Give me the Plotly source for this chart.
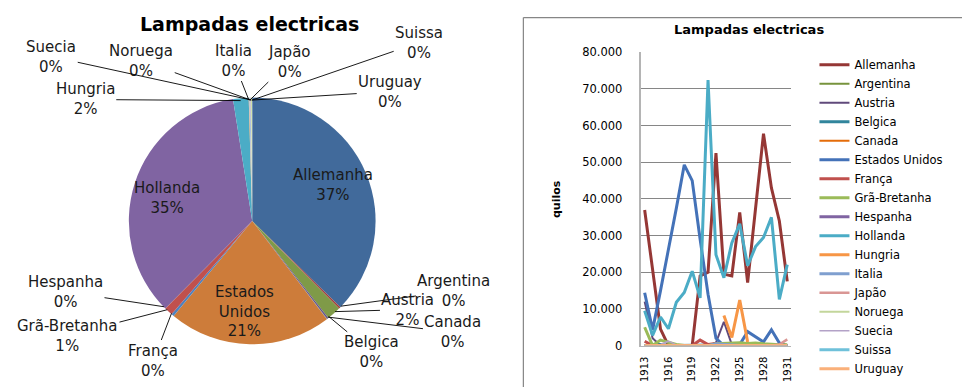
import math
import plotly.graph_objects as go

# ---------------------------------------------------------------- data
years = [1913, 1914, 1915, 1916, 1917, 1918, 1919, 1920, 1921, 1922,
         1923, 1924, 1925, 1926, 1927, 1928, 1929, 1930, 1931]

countries = ["Allemanha", "Argentina", "Austria", "Belgica", "Canada",
             "Estados Unidos", "França", "Grã-Bretanha", "Hespanha",
             "Hollanda", "Hungria", "Italia", "Japão", "Noruega", "Suecia",
             "Suissa", "Uruguay"]

# quilos imported per year
allemanha = [37000, 21000, 4500, 0, 0, 0, 0, 19000, 20000, 52500,
             19500, 19000, 36300, 17200, 37400, 57800, 43000, 34000, 17500]
argentina = [0, 0, 0, 0, 0, 0, 0, 0, 0, 300,
             500, 600, 500, 400, 300, 200, 0, 0, 0]
austria = [12000, 2000, 0, 0, 0, 0, 0, 0, 0, 800,
           6500, 300, 0, 0, 0, 0, 0, 0, 0]
belgica = [0, 0, 300, 0, 0, 0, 0, 0, 0, 0,
           0, 200, 300, 500, 300, 200, 300, 200, 0]
canada = [0, 0, 0, 0, 0, 0, 0, 0, 0, 200,
          0, 0, 300, 0, 0, 0, 0, 0, 0]
estados_unidos = [14400, 4300, 15000, 26000, 37500, 49300, 45000, 29000, 14000, 2000,
                  0, 0, 300, 3800, 2500, 1000, 4300, 700, 0]
franca = [1200, 0, 0, 0, 0, 0, 0, 1500, 300, 600,
          400, 0, 0, 0, 0, 0, 0, 0, 0]
gra_bretanha = [5000, 0, 1500, 800, 300, 0, 0, 0, 0, 500,
                600, 800, 800, 600, 700, 500, 300, 200, 200]
hespanha = [0, 0, 0, 0, 0, 0, 0, 0, 0, 200,
            0, 0, 0, 0, 0, 0, 0, 0, 0]
hollanda = [9500, 2800, 7800, 4600, 11800, 14500, 20300, 13000, 72400, 24800,
            18500, 28000, 33200, 21800, 27000, 29500, 35000, 12600, 22100]
hungria = [None, None, None, None, None, None, None, None, None, None,
           8200, 2200, 12400, 1000, None, None, None, None, None]
italia = [0, 0, 0, 0, 0, 0, 0, 0, 0, 500,
          300, 0, 0, 0, 0, 0, 0, 0, 0]
japao = [0, 0, 0, 0, 0, 0, 0, 0, 0, 0,
         0, 0, 0, 0, 0, 0, 0, 300, 1700]
noruega = [0, 0, 0, 0, 0, 0, 0, 0, 0, 100,
           200, 100, 100, 0, 0, 0, 0, 0, 0]
suecia = [0, 0, 300, 1200, 200, 0, 0, 0, 0, 0,
          0, 0, 0, 0, 0, 0, 0, 0, 0]
suissa = [0, 0, 0, 0, 0, 0, 0, 0, 0, 200,
          0, 0, 0, 0, 0, 0, 0, 0, 0]
uruguay = [0, 0, 0, 0, 0, 0, 0, 0, 0, 0,
           0, 0, 100, 0, 0, 0, 0, 0, 0]

series = [allemanha, argentina, austria, belgica, canada, estados_unidos,
          franca, gra_bretanha, hespanha, hollanda, hungria, italia, japao,
          noruega, suecia, suissa, uruguay]

y_ticks = [0, 10000, 20000, 30000, 40000, 50000, 60000, 70000, 80000]
x_ticks = [1913, 1916, 1919, 1922, 1925, 1928, 1931]

# ---------------------------------------------------------------- styles
W, H = 962, 387
FONT = "DejaVu Sans"

line_colors = ["#953735", "#77933C", "#604A7B", "#31859C", "#E46C0A",
               "#4472B8", "#C0504D", "#9BBB59", "#8064A2", "#4BACC6",
               "#F79646", "#7F9FCF", "#D99694", "#C3D69B", "#B3A2C7",
               "#6FC1DA", "#FAB07A"]
line_widths = [3, 2, 2, 3, 2, 3, 3, 3, 3, 3, 3, 3, 2.5, 2, 1.5, 3, 3]

pie_colors = ["#416A9B", "#A0423F", "#7F9A48", "#69528A", "#3E8FA5",
              "#CD7C3A", "#4F81BD", "#C0504D", "#9BBB59", "#8064A2",
              "#4BACC6", "#F79646", "#A7BFDE", "#DFA7A6", "#D1E2AA",
              "#B9A9CD", "#9DD3E3"]

# pie geometry (pixels)
cx, cy, R = 251, 222, 128

# label centres in pixels; inside labels carry no leader line
label_pos = {
    "Allemanha": (332, 185), "Hollanda": (166, 198), "Estados Unidos": (243, 316),
    "Argentina": (453, 295), "Austria": (407, 314), "Canada": (452, 337),
    "Belgica": (371, 357), "França": (152, 365), "Grã-Bretanha": (66, 340),
    "Hespanha": (64, 296), "Hungria": (84, 96), "Italia": (232, 57),
    "Japão": (288, 58), "Noruega": (140, 57), "Suecia": (50, 53),
    "Suissa": (418, 39), "Uruguay": (389, 88),
}
inside = {"Allemanha", "Hollanda", "Estados Unidos"}
display_name = {"Estados Unidos": "Estados<br>Unidos"}

# ---------------------------------------------------------------- figure
fig = go.Figure()

totals = [sum(v for v in s if v is not None) for s in series]
grand = sum(totals)

fig.add_trace(go.Pie(
    labels=countries, values=totals, sort=False, direction="clockwise",
    rotation=0, textinfo="none", showlegend=False,
    marker=dict(colors=pie_colors, line=dict(width=0)),
    domain=dict(x=[(cx - R) / W, (cx + R) / W],
                y=[1 - (cy + R) / H, 1 - (cy - R) / H]),
))

label_font = dict(family=FONT, size=15, color="#1a1a1a")
annotations = []
cum = 0
for name, tot in zip(countries, totals):
    mid = (cum + tot / 2) / grand * 2 * math.pi
    cum += tot
    pct = round(100 * tot / grand)
    text = f"{display_name.get(name, name)}<br>{pct}%"
    lx, ly = label_pos[name]
    if name in inside:
        annotations.append(dict(
            x=lx / W, y=1 - ly / H, xref="paper", yref="paper",
            xanchor="center", yanchor="middle",
            text=text, showarrow=False, font=label_font))
    else:
        tx = cx + R * 0.98 * math.sin(mid)
        ty = cy - R * 0.98 * math.cos(mid)
        annotations.append(dict(
            x=tx / W, y=1 - ty / H, xref="paper", yref="paper",
            ax=lx - tx, ay=ly - ty, text=text, showarrow=True,
            arrowhead=0, arrowwidth=0.9, arrowcolor="#000000", standoff=0,
            font=label_font))

# titles
annotations.append(dict(x=248 / W, y=1 - 18 / H, xref="paper", yref="paper",
                        xanchor="center", yanchor="middle",
                        text="<b>Lampadas electricas</b>", showarrow=False,
                        font=dict(family=FONT, size=19, color="#000000")))
annotations.append(dict(x=749 / W, y=1 - 23 / H, xref="paper", yref="paper",
                        xanchor="center", yanchor="middle",
                        text="<b>Lampadas electricas</b>", showarrow=False,
                        font=dict(family=FONT, size=13, color="#000000")))
annotations.append(dict(x=557 / W, y=1 - 199 / H, xref="paper", yref="paper",
                        xanchor="center", yanchor="middle",
                        text="<b>quilos</b>", textangle=-90, showarrow=False,
                        font=dict(family=FONT, size=11, color="#000000")))

for name, vals, col, lw in zip(countries, series, line_colors, line_widths):
    fig.add_trace(go.Scatter(
        x=years, y=vals, name=name, mode="lines",
        line=dict(color=col, width=lw), connectgaps=False,
        xaxis="x", yaxis="y",
    ))

fig.update_layout(
    width=W, height=H,
    margin=dict(l=0, r=0, t=0, b=0),
    paper_bgcolor="white", plot_bgcolor="white",
    separators=",.",
    font=dict(family=FONT, size=11, color="#000000"),
    xaxis=dict(domain=[640.7 / W, 791.7 / W], range=[1912.5, 1931.5],
               tickvals=x_ticks, tickangle=-90, showgrid=False,
               showline=True, linecolor="#B4B4B4", linewidth=1,
               tickfont=dict(family=FONT, size=10), ticklabelstandoff=6,
               zeroline=False, fixedrange=True),
    yaxis=dict(domain=[1 - 351.3 / H, 1 - 47 / H], range=[0, 80000],
               tickvals=y_ticks, tickformat=",d", showgrid=True,
               gridcolor="#868686", gridwidth=1, showline=True,
               linecolor="#B4B4B4", linewidth=2, zeroline=False,
               tickfont=dict(family=FONT, size=11.5), ticklabelstandoff=14),
    legend=dict(x=815 / W, xanchor="left", y=1 - 45 / H, yanchor="top",
                font=dict(family=FONT, size=11.5, color="#000000"),
                bgcolor="rgba(0,0,0,0)", borderwidth=0),
    annotations=annotations,
    shapes=[
        dict(type="line", xref="paper", yref="paper", x0=523 / W, x1=523 / W,
             y0=1 - 11 / H, y1=-0.05, line=dict(color="#868686", width=1.2)),
        dict(type="line", xref="paper", yref="paper", x0=523 / W, x1=1.01,
             y0=1 - 11 / H, y1=1 - 11 / H, line=dict(color="#868686", width=1.2)),
    ],
)

fig.write_html("out.html")
